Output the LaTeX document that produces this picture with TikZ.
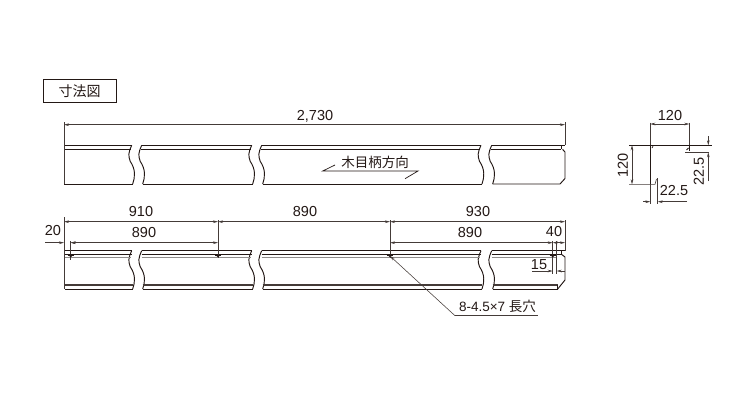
\documentclass[tikz,border=0pt]{standalone}
\usepackage{fontspec}
\setmainfont{Liberation Sans}
\newfontfamily\jpfont{Noto Sans CJK JP}
\usetikzlibrary{arrows.meta}
\definecolor{ink}{HTML}{231815}
\definecolor{greyband}{HTML}{8F8C8B}
\tikzset{
  x=1pt,y=-1pt,
  outline/.style={draw=ink,line width=0.95pt,line join=miter},
  thin outline/.style={draw=ink,line width=0.7pt},
  dim/.style={draw=ink!85,line width=0.55pt,{Stealth[length=5pt,width=2.6pt]}-{Stealth[length=5pt,width=2.6pt]}},
  dimend/.style={draw=ink!85,line width=0.55pt,-{Stealth[length=5pt,width=2.6pt]}},
  ext/.style={draw=ink!85,line width=0.6pt},
  num/.style={text=ink,inner sep=0pt,font=\fontsize{14.5}{15}\selectfont},
  jp/.style={text=ink,inner sep=0pt,font=\fontsize{13.5}{15}\selectfont\jpfont},
  hole/.style={draw=ink,line width=0.7pt},
}
% wavy break: upper end (#1,top) to lower end
\newcommand{\breakL}[3]{(#1,#2) .. controls (#1-3.5,#2+8) and (#1-3.5,#2+10) .. (#1-1.5,#2+16) .. controls (#1+4,#2+24) and (#1+3.5,#3-7) .. (#1+1,#3)}
\newcommand{\segment}[4]{%
  % #1 top-left x, #2 top-right x, #3 top y, #4 bottom y
  \draw[outline] \breakL{#1}{#3}{#4};
  \draw[outline] \breakL{#2}{#3}{#4};
}
\begin{document}
\begin{tikzpicture}
\useasboundingbox (0,0) rectangle (750,400);
\fill[white] (0,0) rectangle (750,400);

% title box
\node[draw=ink,line width=0.95pt,minimum width=73pt,minimum height=23pt,inner sep=0pt,text=ink,font=\fontsize{14}{15}\selectfont\jpfont] (title) at (79.5,91) {寸法図};

% ---------- upper strip
\segment{141.7}{131.7}{145.3}{184}
\segment{261.7}{251.7}{145.3}{184}
\segment{491.7}{481}{145.3}{184}
\draw[outline] (64,145.3) -- (131.7,145.3) (64,149.3) -- (130.5,149.3) (64,184) -- (132.7,184);
\draw[outline] (141.7,145.3) -- (251.7,145.3) (141,149.3) -- (250.5,149.3) (142.7,184) -- (252.7,184);
\draw[outline] (261.7,145.3) -- (481,145.3) (261,149.3) -- (480,149.3) (262.7,184) -- (482,184);
\draw[outline] (491.7,145.3) -- (565,145.3) (491,149.3) -- (561,149.3);
\draw[outline] (492.7,184) -- (560,184) -- (565,178.5) -- (565,152) -- (562.5,149.3);
\draw[outline] (561,145.3) -- (561,149.3);
\draw[ext] (64,122) -- (64,184) (565,122) -- (565,145.3);
\draw[dim] (64,124.7) -- (565,124.7);
\node[num] (L2730) at (315,116) {2,730};

% wood-grain direction
\node[jp] (grain) at (375,162) {木目柄方向};
\coordinate (ga) at (335,165);
\coordinate (gb) at (322.7,171);
\coordinate (gc) at (418,171);
\coordinate (gd) at (405,178.7);
\draw[thin outline] (ga) -- (gb) -- (gc) -- (gd);

% ---------- lower strip
\segment{141.7}{131.7}{250.7}{289}
\segment{261.7}{251.7}{250.7}{289}
\segment{491.7}{481}{250.7}{289}
\foreach \a/\b in {64/131.7,141.7/251.7,261.7/481,491.7/556.7}{
  \draw[outline] (\a,250.7) -- (\b,250.7);
  \draw[outline] (\a,254) -- (\b,254);
  \draw[greyband,line width=1.6pt] (\a,257.3) -- (\b-1,257.3);
  \draw[ink!85,line width=1.7pt] (\a+1,285.3) -- (\b+1,285.3);
  \draw[outline] (\a+1,289) -- (\b+1,289);
}
\draw[outline] (556.7,250.7) -- (565,250.7);
\draw[outline] (556.7,254) -- (561,254);
\draw[outline] (561,250.7) -- (561,254);
\draw[outline] (557.7,285.3) -- (557.7,289);
\draw[outline] (557.7,289) -- (565,280) -- (565,257) -- (561,254);
\draw[ext] (64,217) -- (64,289);
\draw[ext] (218,220) -- (218,258) (390,220) -- (390,258) (565,220) -- (565,250.7);
\draw[ext] (70.7,241) -- (70.7,260) (552.7,241) -- (552.7,274) (556.7,241) -- (556.7,274);
% holes
\foreach \x in {70.7,218,390,552.7}{
  \fill[ink] (\x,255.7) circle (1.6pt);
  \draw[hole] (\x-3.2,255.7) -- (\x+3.2,255.7);
}
% dimensions
\draw[dim] (64,221.7) -- (218,221.7);
\draw[dim] (218,221.7) -- (390,221.7);
\draw[dim] (390,221.7) -- (565,221.7);
\draw[dim] (70.7,242.7) -- (218,242.7);
\draw[dim] (390,242.7) -- (552.7,242.7);
\draw[dimend] (45,242.7) -- (64,242.7);
\draw[dimend] (70.7+9,242.7) -- (70.7,242.7);
\draw[dim] (552.7,242.7) -- (565,242.7);
\draw[dimend] (532,271) -- (552.7,271);
\draw[dimend] (565,271) -- (556.7,271);
\node[num] (L910) at (141,212) {910};
\node[num] (L890a) at (305,212) {890};
\node[num] (L930) at (478,212) {930};
\node[num] (L890b) at (144,233) {890};
\node[num] (L890c) at (470,233) {890};
\node[num] (L20) at (53,231) {20};
\node[num] (L40) at (554,232) {40};
\node[num] (L15) at (539,264.5) {15};
% leader
\coordinate (lh) at (390,256);
\coordinate (lk) at (455,315.7);
\coordinate (le) at (538,315.7);
\draw[dimend] (lk) -- (lh);
\draw[ext] (lk) -- (le);
\node[text=ink,inner sep=0pt,font=\fontsize{13.5}{15}\selectfont] (hole) at (497.5,306) {8-4.5×7 {\jpfont 長穴}};

% ---------- section
\draw[outline] (629,145.3) -- (711.7,145.3);
\draw[ext] (650.3,122.7) -- (650.3,203.5);
\draw[ext] (689.3,122.7) -- (689.3,145.3);
\draw[outline] (650.3,145.3) -- (650.3,184);
\draw[outline] (689.3,145.3) -- (689.3,151);
\draw[thin outline] (652,148) -- (653,146.2);
\draw[outline] (688.5,148) -- (686.5,150);
\draw[ext] (685,152.3) -- (709,152.3);
\draw[ext] (629,184.3) -- (655,184.3) -- (656.5,179);
\draw[ext] (657.7,178) -- (657.7,204);
\draw[dim] (650.3,124) -- (689.3,124);
\draw[dim] (632,145.3) -- (632,184.3);
\draw[dimend] (708.3,136) -- (708.3,145.3);
\draw[dimend] (708.3,181) -- (708.3,152.3);
\draw[dimend] (643,201.7) -- (650.3,201.7);
\draw[dimend] (687,201.7) -- (657.7,201.7);
\node[num] (S120a) at (670,116) {120};
\node[num,rotate=90] (S120b) at (623,165.5) {120};
\node[num] (S225a) at (674,191) {22.5};
\node[num,rotate=90] (S225b) at (699,171.5) {22.5};
\end{tikzpicture}
\end{document}
